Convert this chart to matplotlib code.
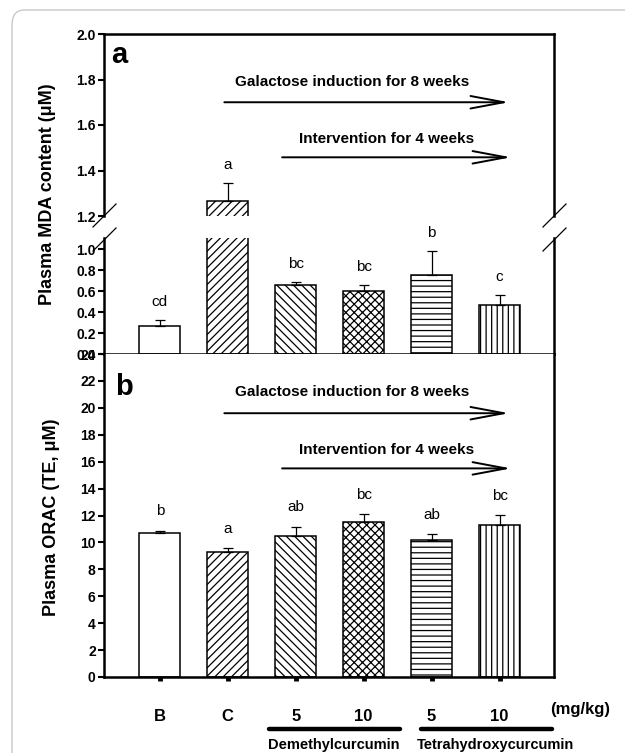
import numpy as np
import matplotlib
matplotlib.use("Agg")
import matplotlib.pyplot as plt
import matplotlib.transforms as mtransforms
from matplotlib.patches import FancyBboxPatch
from matplotlib.lines import Line2D

plt.rcParams['font.family'] = ['Liberation Sans', 'DejaVu Sans']
plt.rcParams['hatch.linewidth'] = 0.9

groups = ['B', 'C', '5', '10', '5', '10']
hatches = ['', '////', '\\\\\\\\', 'xxxx', '---', '|||']

mda = [0.27, 1.265, 0.66, 0.60, 0.75, 0.465]
mda_err = [0.05, 0.08, 0.03, 0.06, 0.23, 0.10]
mda_letters = ['cd', 'a', 'bc', 'bc', 'b', 'c']

orac = [10.67, 9.28, 10.45, 11.52, 10.17, 11.32]
orac_err = [0.2, 0.3, 0.72, 0.58, 0.45, 0.72]
orac_letters = ['b', 'a', 'ab', 'bc', 'ab', 'bc']

x = np.arange(1, 7)
XLIM = (0.18, 6.8)
LOW_TOP = 1.105
UP_BOT = 1.2

W, H = 625, 753
fig = plt.figure(figsize=(W / 100, H / 100), dpi=100)

def rect(l, t, r, b):
    return [l / W, 1 - b / H, (r - l) / W, (b - t) / H]

ax_up = fig.add_axes(rect(104, 34, 554, 216))
ax_lo = fig.add_axes(rect(104, 238, 554, 354))
ax_b = fig.add_axes(rect(104, 354, 554, 677))

SW = 1.8

def bars(ax, vals, errs):
    for xi, v, e, h in zip(x, vals, errs, hatches):
        ax.bar(xi, v, width=0.6, color='white', edgecolor='black',
               linewidth=1.1, hatch=h, zorder=2)
    ax.errorbar(x, vals, yerr=[np.zeros(len(errs)), errs], fmt='none',
                ecolor='black', elinewidth=0.9, capsize=3.5, capthick=0.9,
                zorder=3)
    ax.set_xlim(*XLIM)

bars(ax_up, mda, mda_err)
bars(ax_lo, mda, mda_err)
bars(ax_b, orac, orac_err)

tick_font = dict(fontsize=10, fontweight='bold')

# top panel, upper segment
ax_up.set_ylim(UP_BOT, 2.0)
ax_up.set_yticks([1.2, 1.4, 1.6, 1.8, 2.0])
ax_up.set_yticklabels(['1.2', '1.4', '1.6', '1.8', '2.0'], **tick_font)
ax_up.spines['bottom'].set_visible(False)
ax_up.set_xticks([])

# top panel, lower segment
ax_lo.set_ylim(0, LOW_TOP)
ax_lo.set_yticks([0, 0.2, 0.4, 0.6, 0.8, 1.0])
ax_lo.set_yticklabels(['0.0', '0.2', '0.4', '0.6', '0.8', '1.0'], **tick_font)
ax_lo.spines['top'].set_visible(False)
ax_lo.set_xticks(x)
ax_lo.set_xticklabels([])

# bottom panel
ax_b.set_ylim(0, 24)
ax_b.set_yticks(np.arange(0, 25, 2))
ax_b.set_yticklabels([str(v) for v in range(0, 25, 2)], **tick_font)
ax_b.spines['top'].set_visible(False)
ax_b.set_xticks(x)
ax_b.set_xticklabels(groups, fontsize=12, fontweight='bold')

for ax in (ax_up, ax_lo, ax_b):
    for s in ax.spines.values():
        s.set_linewidth(SW)
    ax.tick_params(axis='y', direction='out', length=4, width=1.5, pad=2)
    ax.tick_params(axis='x', direction='out', length=3, width=3.5)
ax_b.tick_params(axis='x', pad=20)

# letters above bars
let_kw = dict(textcoords='offset points', ha='center', va='center',
              fontsize=11, annotation_clip=False)
for xi, v, e, lab in zip(x, mda, mda_err, mda_letters):
    ax = ax_up if v > LOW_TOP else ax_lo
    ax.annotate(lab, (xi, v + e), xytext=(0, 13), **let_kw)
for xi, v, e, lab in zip(x, orac, orac_err, orac_letters):
    ax_b.annotate(lab, (xi, v + e), xytext=(0, 14), **let_kw)

# panel letters
ax_up.text(0.016, 0.84, 'a', transform=ax_up.transAxes, fontsize=21,
           fontweight='bold', va='baseline', ha='left')
ax_b.text(0.024, 0.873, 'b', transform=ax_b.transAxes, fontsize=21,
          fontweight='bold', va='baseline', ha='left')

# arrows
arrow_kw = dict(arrowstyle='->,head_length=2.4,head_width=0.45', color='black',
                lw=1.4, shrinkA=0, shrinkB=0)
ann_font = dict(fontsize=11, fontweight='bold', ha='center', va='center')

def arrows(ax, y1, t1, y2, t2):
    ax.annotate('', xy=(6.14, y1), xytext=(1.95, y1), arrowprops=arrow_kw)
    ax.text(3.83, t1, 'Galactose induction for 8 weeks', **ann_font)
    ax.annotate('', xy=(6.17, y2), xytext=(2.80, y2), arrowprops=arrow_kw)
    ax.text(4.33, t2, 'Intervention for 4 weeks', **ann_font)

arrows(ax_up, 1.70, 1.79, 1.458, 1.54)
arrows(ax_b, 19.6, 21.2, 15.5, 16.9)

# axis break marks (pixel positions of the spine ends)
for sx in (104, 554):
    for sy in (216, 240):
        fig.add_artist(Line2D([(sx - 11) / W, (sx + 12) / W],
                              [1 - (sy + 11) / H, 1 - (sy - 12) / H],
                              transform=fig.transFigure, color='black', lw=0.9))

# y labels
fig.text(48 / W, 1 - 194 / H, 'Plasma MDA content (\u03bcM)', rotation=90,
         fontsize=13, fontweight='bold', ha='center', va='center')
fig.text(52 / W, 1 - 517 / H, 'Plasma ORAC (TE, \u03bcM)', rotation=90,
         fontsize=13, fontweight='bold', ha='center', va='center')

# group annotations under the bottom panel
bt = mtransforms.blended_transform_factory(ax_b.transData, ax_b.transAxes)
ax_b.text(7.18, -0.102, '(mg/kg)', transform=bt, fontsize=12,
          fontweight='bold', ha='center', va='center', clip_on=False)
ax_b.plot([2.60, 4.53], [-0.161, -0.161], transform=bt, color='black', lw=3.2,
          solid_capstyle='round', clip_on=False)
ax_b.plot([4.84, 6.77], [-0.161, -0.161], transform=bt, color='black', lw=3.2,
          solid_capstyle='round', clip_on=False)
ax_b.text(3.56, -0.21, 'Demethylcurcumin', transform=bt, fontsize=10.5,
          fontweight='bold', ha='center', va='center', clip_on=False)
ax_b.text(5.94, -0.21, 'Tetrahydroxycurcumin', transform=bt, fontsize=10.5,
          fontweight='bold', ha='center', va='center', clip_on=False)

# outer rounded frame
frame = FancyBboxPatch((12 / W, -0.05), 1.1, 1 - 10 / H + 0.05,
                       boxstyle='round,pad=0,rounding_size=0.02',
                       transform=fig.transFigure, facecolor='none',
                       edgecolor='#c8c8c8', lw=1.0)
fig.patches.append(frame)

fig.savefig('out.png', dpi=100)
